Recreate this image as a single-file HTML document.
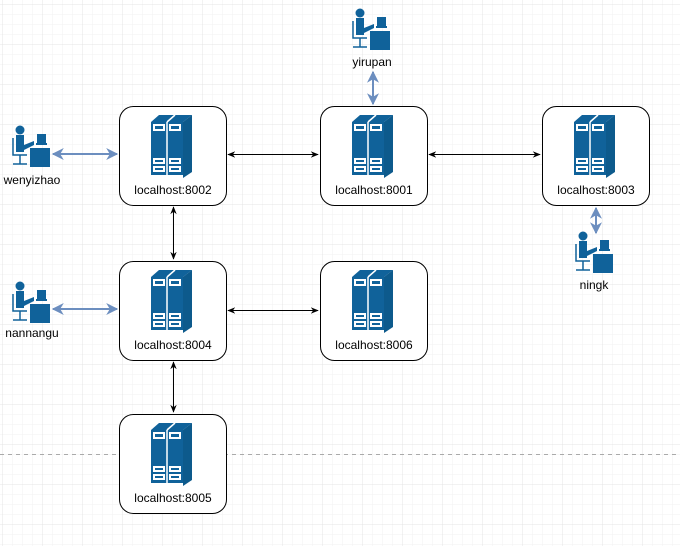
<!DOCTYPE html>
<html><head><meta charset="utf-8"><style>
html,body{margin:0;padding:0;background:#fff}
svg{display:block;font-family:"Liberation Sans",sans-serif}
</style></head><body>
<svg width="680" height="546" xmlns="http://www.w3.org/2000/svg">
<defs>
<pattern id="minor" x="2" y="4" width="10" height="10" patternUnits="userSpaceOnUse">
<path d="M0 0H10M0 0V10" stroke="#f2f2f2" stroke-width="1" fill="none"/>
</pattern>
<pattern id="major" x="2" y="4" width="40" height="40" patternUnits="userSpaceOnUse">
<path d="M0 0H40M0 0V40" stroke="#e4e4e4" stroke-width="1" fill="none"/>
</pattern>
<g id="srv">
<path d="M32 69V16L40 9H73L64 16Z" fill="#10629a"/>
<path d="M64 16L73 9V66L64 72Z" fill="#0d5a8c"/>
<rect x="32" y="16" width="32" height="53" fill="#10629a"/>
<line x1="48" y1="16" x2="48" y2="69" stroke="#fff" stroke-width="1.5"/>
<path d="M48 16L56 9" stroke="#fff" stroke-width="1.5"/>
<rect x="34" y="18" width="12" height="7" fill="#fff"/><rect x="36" y="20" width="8" height="3" fill="#10629a"/>
<rect x="50" y="18" width="12" height="7" fill="#fff"/><rect x="52" y="20" width="8" height="3" fill="#10629a"/>
<rect x="34" y="52" width="12" height="6" fill="#fff"/><rect x="36" y="54" width="8" height="2" fill="#10629a"/>
<rect x="50" y="52" width="12" height="6" fill="#fff"/><rect x="52" y="54" width="8" height="2" fill="#10629a"/>
<rect x="34" y="60" width="12" height="6" fill="#fff"/><rect x="36" y="62" width="8" height="2" fill="#10629a"/>
<rect x="50" y="60" width="12" height="6" fill="#fff"/><rect x="52" y="62" width="8" height="2" fill="#10629a"/>
<rect x="0.5" y="0.5" width="107" height="99" rx="14" fill="none" stroke="#000" stroke-width="1"/>
</g>
<g id="person">
<circle cx="8" cy="6" r="4.5" fill="#10629a"/>
<path d="M4 11H12V21L22 17V21L12 26V28H4Z" fill="#10629a"/>
<path d="M1 14V31H15" stroke="#10629a" stroke-width="1.5" fill="none"/>
<path d="M8 31V40M1 40H15" stroke="#10629a" stroke-width="1.5" fill="none"/>
<rect x="18" y="24" width="20" height="19" fill="#10629a"/>
<rect x="25" y="10" width="9" height="9" fill="#10629a"/>
<rect x="24" y="19" width="11" height="2" fill="#10629a"/>
</g>
<marker id="ab" viewBox="0 0 10 10" refX="9" refY="5" markerWidth="8" markerHeight="8" orient="auto-start-reverse"><path d="M0 1L10 5L0 9L3 5Z" fill="#000"/></marker>
<marker id="ablue" viewBox="0 0 10 10" refX="9" refY="5" markerWidth="6" markerHeight="6" orient="auto-start-reverse"><path d="M0 0L10 5L0 10L3 5Z" fill="#6c8ebf"/></marker>
</defs>
<rect width="680" height="546" fill="url(#minor)"/>
<rect width="680" height="546" fill="url(#major)"/>
<line x1="0" y1="454.5" x2="680" y2="454.5" stroke="#aaa" stroke-dasharray="4 4"/>
<g fill="#fff"><rect x="119.5" y="106.5" width="107" height="99" rx="14"/><rect x="320.5" y="106.5" width="107" height="99" rx="14"/><rect x="542.5" y="106.5" width="107" height="99" rx="14"/><rect x="119.5" y="261.5" width="107" height="99" rx="14"/><rect x="320.5" y="261.5" width="107" height="99" rx="14"/><rect x="119.5" y="414.5" width="107" height="99" rx="14"/></g>
<use href="#srv" x="119" y="106"/><use href="#srv" x="320" y="106"/><use href="#srv" x="542" y="106"/>
<use href="#srv" x="119" y="261"/><use href="#srv" x="320" y="261"/><use href="#srv" x="119" y="414"/>
<g font-size="12" fill="#000" text-anchor="middle">
<text x="173" y="194">localhost:8002</text><text x="374" y="194">localhost:8001</text><text x="596" y="194">localhost:8003</text>
<text x="173" y="349">localhost:8004</text><text x="374" y="349">localhost:8006</text><text x="173" y="502">localhost:8005</text>
<text x="32" y="184">wenyizhao</text><text x="372" y="66">yirupan</text><text x="594" y="289">ningk</text><text x="32" y="337">nannangu</text>
</g>
<use href="#person" x="12" y="124"/><use href="#person" x="352" y="7"/><use href="#person" x="575" y="230"/><use href="#person" x="12" y="280"/>
<g stroke="#000" stroke-width="1" marker-start="url(#ab)" marker-end="url(#ab)">
<line x1="228" y1="154.5" x2="318" y2="154.5"/>
<line x1="429" y1="154.5" x2="540" y2="154.5"/>
<line x1="173.5" y1="207" x2="173.5" y2="259"/>
<line x1="228" y1="310.5" x2="318" y2="310.5"/>
<line x1="173.5" y1="362" x2="173.5" y2="412"/>
</g>
<g stroke="#6c8ebf" stroke-width="2" marker-start="url(#ablue)" marker-end="url(#ablue)">
<line x1="53" y1="154" x2="117" y2="154"/>
<line x1="53" y1="309" x2="117" y2="309"/>
<line x1="373" y1="72" x2="373" y2="104"/>
<line x1="596" y1="208" x2="596" y2="233"/>
</g>
</svg>
</body></html>
